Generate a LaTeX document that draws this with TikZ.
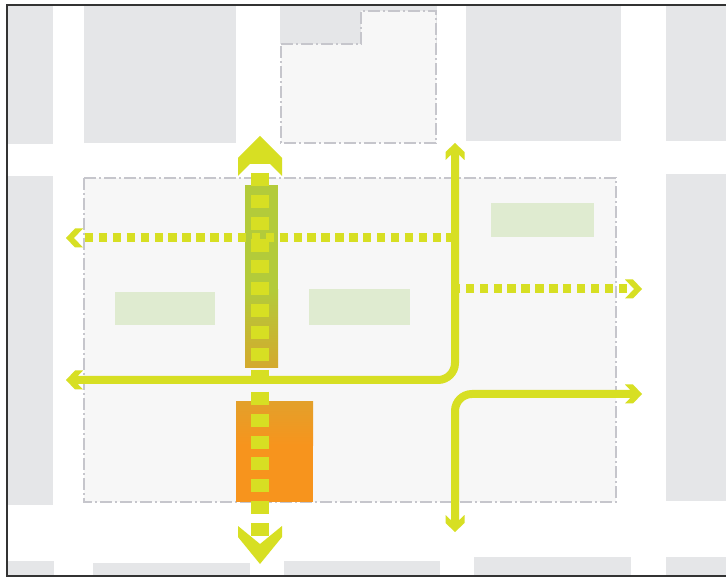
\documentclass[tikz,border=0pt]{standalone}
\definecolor{blk}{HTML}{E5E6E8}
\definecolor{pale}{HTML}{F7F7F7}
\definecolor{dashc}{HTML}{C6C6CC}
\definecolor{lgreen}{HTML}{DFEBD0}
\definecolor{lime}{HTML}{D7DF23}
\definecolor{bartop}{HTML}{B3CB3A}
\definecolor{barbot}{HTML}{D4A92D}
\definecolor{orgtop}{HTML}{E3A02A}
\definecolor{org}{HTML}{F7941D}
\definecolor{frame}{HTML}{333333}
\begin{document}
\begin{tikzpicture}[x=1pt,y=-1pt,
  block/.style={fill=blk},
  site/.style={fill=pale,draw=dashc,line width=1.2pt,dash pattern=on 12pt off 3pt on 2pt off 3pt},
  greenpatch/.style={fill=lgreen},
  route/.style={draw=lime,line width=8pt,rounded corners=17pt},
  smalldots/.style={draw=lime,line width=9pt,dash pattern=on 8.4pt off 5.5pt},
  bigdots/.style={draw=lime,line width=18pt,dash pattern=on 13pt off 8.875pt},
  pics/chev/.style={code={\fill[lime] (0,0) -- (-9,9.5) -- (-17,9.5) -- (-8,0) -- (-17,-9.5) -- (-9,-9.5) -- cycle;}}
]
\useasboundingbox (0,0) rectangle (726,577);
\fill[white] (0,0) rectangle (726,577);

% city blocks
\fill[block] (8,6) rectangle (53,144);
\fill[block] (84,6) rectangle (236,143);
\fill[block] (280,6) rectangle (437,44);
\fill[block] (466,6) rectangle (621,141);
\fill[block] (666,6) rectangle (726,141);
\fill[block] (8,176) rectangle (53,505);
\fill[block] (666,174) rectangle (726,501);
\fill[block] (8,561) rectangle (54,576);
\fill[block] (93,563) rectangle (250,576);
\fill[block] (284,561) rectangle (440,576);
\fill[block] (474,557) rectangle (631,576);
\fill[block] (666,557) rectangle (726,576);

% sites
\draw[site] (281,44) -- (361,44) -- (361,11) -- (436,11) -- (436,143) -- (281,143) -- cycle;
\draw[site] (84,178) rectangle (616,502);

% green patches
\fill[greenpatch] (115,292) rectangle (215,325);
\fill[greenpatch] (309,289) rectangle (410,325);
\fill[greenpatch] (491,203) rectangle (594,237);

% buildings
\fill[bartop] (245,185) rectangle (278,291);
\shade[top color=bartop,bottom color=barbot] (245,290) rectangle (278,368);
\fill[orgtop] (236,402) rectangle (313,403);
\shade[top color=orgtop,bottom color=org] (236,402) rectangle (313,445);
\fill[org] (236,444) rectangle (313,502);

% route coordinates
\coordinate (aW) at (66,380);
\coordinate (aWs) at (74,380);
\coordinate (c1) at (455,380);
\coordinate (aN) at (455,143);
\coordinate (aNs) at (455,151);
\coordinate (aS) at (455,532);
\coordinate (aSs) at (455,524);
\coordinate (c2) at (455,394);
\coordinate (aE) at (642,394);
\coordinate (aEs) at (634,394);
\coordinate (dW) at (66,238);
\coordinate (dWs) at (85,238);
\coordinate (dWe) at (452,238);
\coordinate (dE) at (642,289);
\coordinate (dEs) at (627,289);
\coordinate (dEe) at (455,289);
\coordinate (vT) at (260,173);
\coordinate (vB) at (260,536);

% solid routes
\draw[route] (aWs) -- (c1) -- (aNs);
\draw[route] (aSs) -- (c2) -- (aEs);
\pic[rotate=180] at (aW) {chev};
\pic[rotate=90] at (aN) {chev};
\pic[rotate=-90] at (aS) {chev};
\pic at (aE) {chev};

% dotted routes
\draw[smalldots] (dWs) -- (dWe);
\draw[smalldots] (dEs) -- (dEe);
\pic[rotate=180] at (dW) {chev};
\pic at (dE) {chev};

% main dotted spine
\draw[bigdots] (vT) -- (vB);
\fill[lime] (260,136) -- (282,158) -- (282,176) -- (270,164) -- (250,164) -- (238,176) -- (238,158) -- cycle;
\fill[lime] (238,526) -- (260,544) -- (282,526) -- (282,537) -- (260,564) -- (238,537) -- cycle;

% frame
\draw[frame,line width=1.5pt] (726,5) -- (7,5) -- (7,576) -- (726,576);
\end{tikzpicture}
\end{document}
